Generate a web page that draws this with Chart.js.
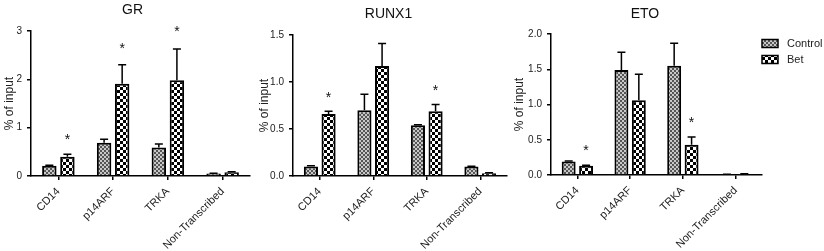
<!DOCTYPE html>
<html><head><meta charset="utf-8">
<script src="https://cdn.jsdelivr.net/npm/chart.js@4"></script>
<style>
html,body{margin:0;padding:0;background:#fff;}
body{width:824px;height:251px;position:relative;overflow:hidden;}
.p{position:absolute;top:0;}
</style></head><body>
<div class="p" style="left:0px"><canvas id="cGR" width="260" height="251"></canvas></div>
<div class="p" style="left:255px"><canvas id="cRUNX1" width="262" height="251"></canvas></div>
<div class="p" style="left:510px"><canvas id="cETO" width="314" height="251"></canvas></div>
<script>
// ---- data ----
const categories = ['CD14', 'p14ARF', 'TRKA', 'Non-Transcribed'];
const seriesNames = ['Control', 'Bet'];
const yTitle = '% of input';

const grControl    = [0.21, 0.69, 0.59, 0.05];
const grControlSem = [0.01, 0.07, 0.07, 0.005];
const grBet        = [0.40, 1.91, 1.98, 0.08];
const grBetSem     = [0.05, 0.39, 0.65, 0.01];
const grStars      = [0.82, 2.72, 3.07, null];
const grTicks      = [0, 1, 2, 3];

const runxControl    = [0.10, 0.70, 0.54, 0.10];
const runxControlSem = [0.01, 0.17, 0.005, 0.005];
const runxBet        = [0.66, 1.17, 0.69, 0.03];
const runxBetSem     = [0.03, 0.24, 0.07, 0.005];
const runxStars      = [0.87, null, 0.95, null];
const runxTicks      = [0, 0.5, 1.0, 1.5];

const etoControl    = [0.19, 1.49, 1.55, 0.01];
const etoControlSem = [0.01, 0.25, 0.32, 0.002];
const etoBet        = [0.13, 1.06, 0.43, 0.015];
const etoBetSem     = [0.01, 0.37, 0.11, 0.002];
const etoStars      = [0.40, null, 0.79, null];
const etoTicks      = [0, 0.5, 1.0, 1.5, 2.0];

// ---- patterns ----
function makePattern(size, cell, c1, c2) {
  const cv = document.createElement('canvas');
  cv.width = size; cv.height = size;
  const g = cv.getContext('2d');
  g.fillStyle = c1; g.fillRect(0, 0, size, size);
  g.fillStyle = c2;
  for (let y = 0; y < size; y += cell) for (let x = 0; x < size; x += cell) {
    if (((x / cell) + (y / cell)) % 2 === 1) g.fillRect(x, y, cell, cell);
  }
  return g.createPattern(cv, 'repeat');
}
const ctrlPattern = makePattern(4, 2, '#c8c8c8', '#555555');
const betPattern = makePattern(6, 3, '#ffffff', '#000000');
const fills = [ctrlPattern, betPattern];

const FONT = "'Liberation Sans', Arial, sans-serif";

const deco = {
  id: 'deco',
  afterDatasetsDraw(chart, args, o) {
    const ctx = chart.ctx, ys = chart.scales.y;
    ctx.save();
    chart.data.datasets.forEach((ds, di) => {
      const meta = chart.getDatasetMeta(di);
      meta.data.forEach((bar, i) => {
        const top = ys.getPixelForValue(ds.data[i] + o.sem[di][i]);
        ctx.strokeStyle = '#000'; ctx.lineWidth = 1.5;
        ctx.beginPath();
        ctx.moveTo(bar.x, bar.y); ctx.lineTo(bar.x, top);
        ctx.moveTo(bar.x - 4, top); ctx.lineTo(bar.x + 4, top);
        ctx.stroke();
        const st = o.stars[di];
        if (st && st[i] != null) {
          ctx.fillStyle = '#111';
          ctx.font = '14px ' + FONT;
          ctx.textAlign = 'center'; ctx.textBaseline = 'alphabetic';
          ctx.fillText('*', bar.x, ys.getPixelForValue(st[i]) + 8);
        }
      });
    });
    ctx.fillStyle = '#111';
    ctx.font = '14px ' + FONT;
    ctx.textAlign = 'center'; ctx.textBaseline = 'middle';
    ctx.fillText(o.title, o.titleX, o.titleY);
    if (o.legend) {
      const ca = chart.chartArea;
      chart.data.datasets.forEach((ds, di) => {
        const bx = ca.right, by = 39.5 + di * 16;
        ctx.fillStyle = fills[di];
        ctx.fillRect(bx, by, 16, 8);
        ctx.strokeStyle = '#000'; ctx.lineWidth = 1.5;
        ctx.strokeRect(bx, by, 16, 8);
        ctx.fillStyle = '#222';
        ctx.font = '11px ' + FONT;
        ctx.textAlign = 'left'; ctx.textBaseline = 'middle';
        ctx.fillText(ds.label, bx + 25, by + 4.5);
      });
    }
    ctx.restore();
  }
};

function panel(id, title, control, bet, sems, stars, ticks, dec, yWidth, xHeight, padTop, padRight, titleX, titleY, legend) {
  new Chart(document.getElementById(id), {
    type: 'bar',
    data: {
      labels: categories,
      datasets: [
        { label: seriesNames[0], data: control, backgroundColor: ctrlPattern, borderColor: '#000', borderWidth: 2, borderSkipped: 'start', categoryPercentage: 0.66, barPercentage: 0.8 },
        { label: seriesNames[1], data: bet, backgroundColor: betPattern, borderColor: '#000', borderWidth: 2, borderSkipped: 'start', categoryPercentage: 0.66, barPercentage: 0.8 }
      ]
    },
    options: {
      responsive: false,
      animation: false,
      devicePixelRatio: 1,
      layout: { padding: { top: padTop, right: padRight, left: 0, bottom: 0 } },
      plugins: {
        legend: { display: false },
        tooltip: { enabled: false },
        deco: { sem: sems, stars: [null, stars], title: title, titleX: titleX, titleY: titleY, legend: legend }
      },
      scales: {
        x: {
          type: 'category',
          offset: true,
          border: { color: '#000', width: 1.5 },
          grid: { offset: false, drawOnChartArea: false, drawTicks: true, tickLength: 4, color: '#000', lineWidth: 1.5 },
          ticks: { minRotation: 45, maxRotation: 45, autoSkip: false, padding: 5, color: '#222', font: { size: 11, family: FONT } },
          afterFit: s => { s.height = xHeight; }
        },
        y: {
          min: ticks[0], max: ticks[ticks.length - 1],
          border: { color: '#000', width: 1.5 },
          grid: { drawOnChartArea: false, drawTicks: true, tickLength: 4, color: '#000', lineWidth: 1.5 },
          afterBuildTicks: s => { s.ticks = ticks.map(v => ({ value: v })); },
          ticks: { padding: 5, color: '#222', font: { size: 10, family: FONT }, callback: v => Number(v).toFixed(dec) },
          title: { display: true, text: yTitle, color: '#222', font: { size: 12, family: FONT }, padding: { top: 2, bottom: 0 } },
          afterFit: s => { s.width = yWidth; }
        }
      }
    },
    plugins: [deco]
  });
}

panel('cGR', 'GR', grControl, grBet, [grControlSem, grBetSem], grStars, grTicks, 0, 31, 75, 31, 10, 132.5, 10.5, false);
panel('cRUNX1', 'RUNX1', runxControl, runxBet, [runxControlSem, runxBetSem], runxStars, runxTicks, 1, 38, 75, 35, 10, 133.5, 14, false);
panel('cETO', 'ETO', etoControl, etoBet, [etoControlSem, etoBetSem], etoStars, etoTicks, 1, 41, 76, 34, 62, 135, 14, true);
</script>
</body></html>
